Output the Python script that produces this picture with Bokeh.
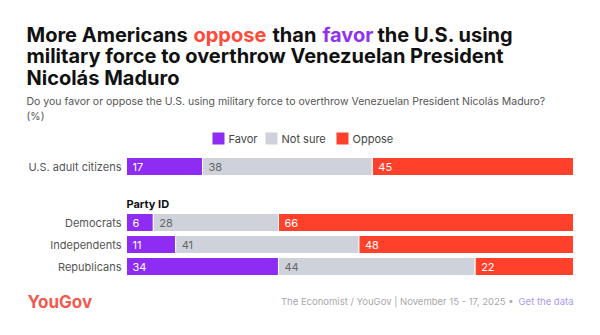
from bokeh.plotting import figure
from bokeh.models import Range1d, ColumnDataSource
from bokeh.core.properties import value
from bokeh.embed import file_html
from bokeh.resources import INLINE

# ---------------- data ----------------
groups = ["U.S. adult citizens", "Democrats", "Independents", "Republicans"]
favor = [17, 6, 11, 34]
not_sure = [38, 28, 41, 44]
oppose = [45, 66, 48, 22]
series_names = ["Favor", "Not sure", "Oppose"]

title_parts_line1 = ["More Americans", "oppose", "than", "favor", "the U.S. using"]
title_line2 = "military force to overthrow Venezuelan President"
title_line3 = "Nicolás Maduro"
subtitle_1 = "Do you favor or oppose the U.S. using military force to overthrow Venezuelan President Nicolás Maduro?"
subtitle_2 = "(%)"
section_label = "Party ID"
source_text = "The Economist / YouGov | November 15 - 17, 2025 •"
link_text = "Get the data"
brand = "YouGov"

# ---------------- style / layout ----------------
W, H = 600, 335
BAR_X0, BAR_X1 = 126, 573          # pixel extent of 0..100 %
SCALE = (BAR_X1 - BAR_X0) / 100.0
def px(x):
    return (x - BAR_X0) / SCALE

C_FAV = "#8f2cf4"
C_NS = "#cfd2da"
C_OPP = "#ff412c"
FONT = "Inter"
row_y = [166, 222, 244, 266]
BAR_H = 18

p = figure(width=W, height=H, output_backend="svg", toolbar_location=None,
           x_range=Range1d(px(0), px(W)), y_range=Range1d(H, 0),
           min_border=0, min_border_left=0, min_border_right=0,
           min_border_top=0, min_border_bottom=0)
p.axis.visible = False
p.grid.visible = False
p.outline_line_color = None
p.background_fill_color = "white"
p.border_fill_color = "white"

# ---------------- bars ----------------
left_f = [0] * len(groups)
right_f = favor[:]
left_n = favor[:]
right_n = [f + n for f, n in zip(favor, not_sure)]
left_o = right_n[:]
right_o = [r + o for r, o in zip(right_n, oppose)]

src = ColumnDataSource(dict(y=row_y, lf=left_f, rf=right_f, ln=left_n, rn=right_n,
                            lo=left_o, ro=right_o,
                            tf=[str(v) for v in favor], tn=[str(v) for v in not_sure],
                            to=[str(v) for v in oppose]))
for l, r, c in (("lf", "rf", C_FAV), ("ln", "rn", C_NS), ("lo", "ro", C_OPP)):
    p.hbar(y="y", left=l, right=r, height=BAR_H, source=src, fill_color=c,
           line_color="white", line_width=1)

for x, t, col in (("lf", "tf", "white"), ("ln", "tn", "#666666"), ("lo", "to", "white")):
    p.text(x=x, y="y", text=t, source=src, x_offset=6, text_baseline="middle",
           text_align="left", text_font=value(FONT), text_font_size="11px",
           text_color=col)

# row labels
p.text(x=[px(121)] * len(groups), y=row_y, text=groups, text_align="right",
       text_baseline="middle", text_font=value(FONT), text_font_size="11px",
       text_color="#555555")

# section label
p.text(x=[0], y=[203], text=[section_label], text_align="left", text_baseline="middle",
       text_font=value(FONT), text_font_size="11px", text_font_style="bold",
       text_color="#111111")

# ---------------- legend ----------------
leg_x = [212, 265, 336]
leg_cols = [C_FAV, C_NS, C_OPP]
p.rect(x=[px(x + 6) for x in leg_x], y=[138] * 3, width=12 / SCALE, height=12,
       fill_color=leg_cols, line_color=None)
p.text(x=[px(x + 16) for x in leg_x], y=[138] * 3, text=series_names, text_align="left",
       text_baseline="middle", text_font=value(FONT), text_font_size="11px",
       text_color="#444444")

# ---------------- title ----------------
t_x = [26, 193, 272, 322, 377]
t_col = ["#111111", "#ff4a3a", "#111111", "#9033ee", "#111111"]
TS = "20px"
for x, s, c in zip(t_x, title_parts_line1, t_col):
    p.text(x=[px(x)], y=[34], text=[s], text_align="left", text_baseline="alphabetic",
           text_font=value(FONT), text_font_size=TS, text_font_style="bold",
           text_color=c)
p.text(x=[px(26)] * 2, y=[55.5, 77], text=[title_line2, title_line3], text_align="left",
       text_baseline="alphabetic", text_font=value(FONT), text_font_size=TS,
       text_font_style="bold", text_color="#111111")

# subtitle
p.text(x=[px(26)] * 2, y=[101, 116], text=[subtitle_1, subtitle_2], text_align="left",
       text_baseline="alphabetic", text_font=value(FONT), text_font_size="10.5px",
       text_color="#555555")

# ---------------- footer ----------------
p.text(x=[px(27)], y=[301], text=[brand], text_align="left", text_baseline="middle",
       text_font=value(FONT), text_font_size="17px", text_font_style="bold",
       text_color="#ef5b50")
p.text(x=[px(513)], y=[301], text=[source_text], text_align="right", text_baseline="middle",
       text_font=value(FONT), text_font_size="9.5px", text_color="#a8a8a8")
p.text(x=[px(573)], y=[301], text=[link_text], text_align="right", text_baseline="middle",
       text_font=value(FONT), text_font_size="9.5px", text_color="#a79cf0")

open("out.html", "w").write(file_html(p, INLINE))
